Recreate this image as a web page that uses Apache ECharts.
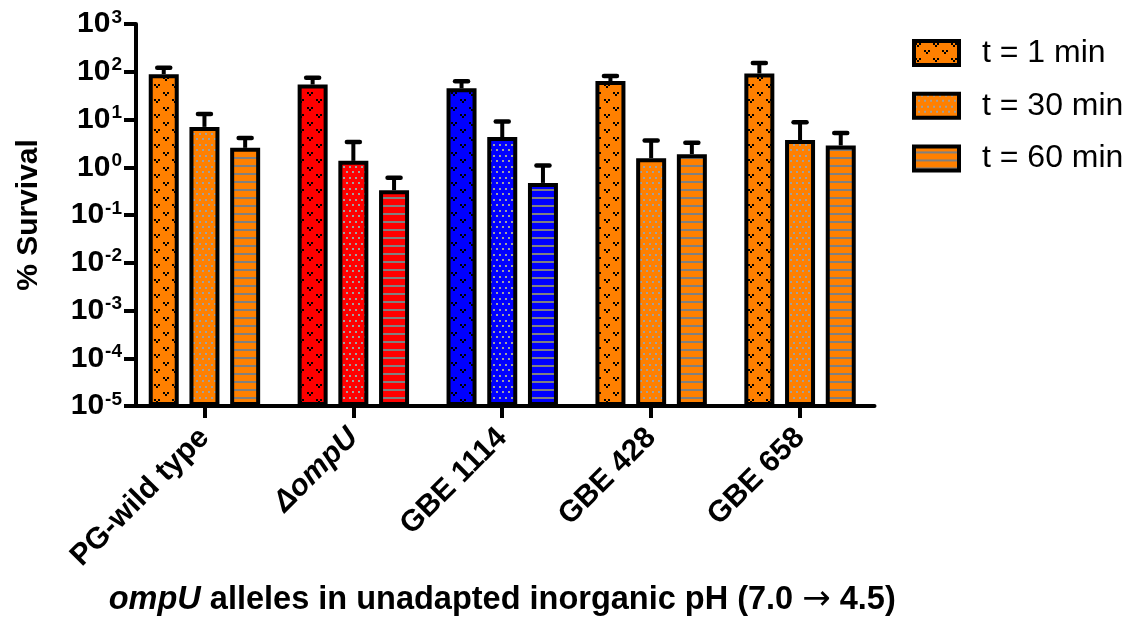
<!DOCTYPE html>
<html><head><meta charset="utf-8">
<script src="https://cdn.jsdelivr.net/npm/echarts@6/dist/echarts.min.js"></script>
<style>html,body{margin:0;padding:0;background:#fff}#chart{width:1137px;height:618px}</style>
</head><body><div id="chart"></div>
<script>
// ---- data ----
const categories = ['PG-wild type', 'ΔompU', 'GBE 1114', 'GBE 428', 'GBE 658'];
const groupColors = ['#FF8000', '#FF0000', '#0000FF', '#FF8000', '#FF8000'];
const seriesNames = ['t = 1 min', 't = 30 min', 't = 60 min'];
const t1Mean  = [89, 54, 45, 64, 92];
const t1SD    = [32, 21, 18, 17, 60];
const t30Mean = [7.0, 1.36, 4.3, 1.55, 3.7];
const t30SD   = [6.1, 2.0, 4.8, 2.1, 5.1];
const t60Mean = [2.55, 0.33, 0.47, 1.88, 2.86];
const t60SD   = [1.57, 0.27, 0.62, 1.36, 2.34];
const yExponents = [-5, -4, -3, -2, -1, 0, 1, 2, 3];
const xTitleItalic = 'ompU';
const xTitleMid = ' alleles in unadapted inorganic pH (7.0 ';
const xTitleArrow = '\u2192';
const xTitleEnd = ' 4.5)';
const yTitle = '% Survival';

// ---- helpers ----
const FONT = '"Liberation Sans", Arial, sans-serif';
const LOG_MIN = yExponents[0];
const LOG_MAX = yExponents[yExponents.length - 1];
const toAxis = v => Math.log10(v) - LOG_MIN;

const patternCache = {};
function makePattern(kind, bg) {
  const key = kind + bg;
  if (patternCache[key]) return patternCache[key];
  const c = document.createElement('canvas');
  let w, h;
  if (kind === 'marks') { w = 18; h = 15; }
  else if (kind === 'dots') { w = 12; h = 11; }
  else { w = 4; h = 8; }
  c.width = w; c.height = h;
  const g = c.getContext('2d');
  g.fillStyle = bg; g.fillRect(0, 0, w, h);
  if (kind === 'marks') {
    g.fillStyle = '#000';
    const m = (x, y) => { g.fillRect(x, y, 2, 2); g.fillRect(x + 4, y, 2, 2); g.fillRect(x + 2, y + 2, 2, 2); };
    m(1, 2); m(10, 9);
  } else if (kind === 'dots') {
    g.fillStyle = '#a0a0a0';
    g.fillRect(1, 1, 2, 2); g.fillRect(7, 1, 2, 2); g.fillRect(4, 6, 2, 2); g.fillRect(10, 6, 2, 2);
  } else {
    g.fillStyle = '#808080'; g.fillRect(0, 5, w, 2);
  }
  const p = { image: c, repeat: 'repeat' };
  patternCache[key] = p;
  return p;
}

const kinds = ['marks', 'dots', 'lines'];
const means = [t1Mean, t30Mean, t60Mean];
const sds = [t1SD, t30SD, t60SD];
const BAR_W = 30, BAR_GAP = 0.357;

const barSeries = means.map((m, s) => ({
  name: seriesNames[s], type: 'bar', barWidth: BAR_W, barGap: (BAR_GAP * 100) + '%', z: 2,
  itemStyle: { color: makePattern(kinds[s], groupColors[0]), borderColor: '#000', borderWidth: 4 },
  emphasis: { disabled: true },
  data: m.map((v, i) => ({ value: toAxis(v), itemStyle: { color: makePattern(kinds[s], groupColors[i]) } }))
}));

const errSeries = means.map((m, s) => ({
  type: 'custom', name: seriesNames[s] + ' error', z: 5, silent: true,
  renderItem: (params, api) => {
    const off = (s - 1) * BAR_W * (1 + BAR_GAP);
    const base = api.coord([api.value(0), api.value(1)]);
    const top = api.coord([api.value(0), api.value(2)]);
    const cx = base[0] + off;
    return { type: 'group', children: [
      { type: 'line', shape: { x1: cx, y1: base[1], x2: cx, y2: top[1] }, style: { stroke: '#000', lineWidth: 4 } },
      { type: 'line', shape: { x1: cx - 6.5, y1: top[1], x2: cx + 6.5, y2: top[1] }, style: { stroke: '#000', lineWidth: 4.5, lineCap: 'round' } }
    ]};
  },
  data: m.map((v, i) => [i, toAxis(v), toAxis(v + sds[s][i])])
}));

const chart = echarts.init(document.getElementById('chart'));
chart.setOption({
  animation: false,
  backgroundColor: '#fff',
  grid: { left: 130, right: 262.5, top: 24, bottom: 212, containLabel: false, outerBoundsMode: 'none' },
  legend: {
    data: seriesNames, orient: 'vertical', left: 912, top: 37, icon: 'rect', padding: 0,
    itemWidth: 45, itemHeight: 24, itemGap: 20.7,
    itemStyle: { borderColor: '#000', borderWidth: 4 },
    textStyle: { fontFamily: FONT, fontSize: 32, color: '#000', lineHeight: 26, padding: [0, 0, 0, 18] },
    selectedMode: false
  },
  xAxis: {
    type: 'category', data: categories,
    axisLine: { show: true, lineStyle: { color: '#000', width: 4 } },
    axisTick: { show: true, alignWithLabel: true, length: 12, lineStyle: { color: '#000', width: 4 } },
    axisLabel: {
      interval: 0, rotate: 45, margin: 27, color: '#000', fontFamily: FONT, fontSize: 30, fontWeight: 'bold',
      formatter: v => v === 'ΔompU' ? '{i|' + v + '}' : v,
      rich: { i: { fontFamily: FONT, fontSize: 30, fontWeight: 'bold', fontStyle: 'italic', color: '#000' } }
    },
    name: '{i|' + xTitleItalic + '}{b|' + xTitleMid + '}{a|' + xTitleArrow + '}{b|' + xTitleEnd + '}',
    nameLocation: 'middle', nameGap: 176,
    nameTextStyle: {
      rich: {
        i: { fontFamily: FONT, fontSize: 32.5, fontWeight: 'bold', fontStyle: 'italic', color: '#000', lineHeight: 36 },
        b: { fontFamily: FONT, fontSize: 32.5, fontWeight: 'bold', color: '#000', lineHeight: 36 },
        a: { fontFamily: '"DejaVu Sans", sans-serif', fontSize: 34, fontWeight: 'normal', color: '#000', lineHeight: 36 }
      }
    }
  },
  yAxis: {
    type: 'value', min: 0, max: LOG_MAX - LOG_MIN, interval: 1, offset: -6,
    splitLine: { show: false },
    axisLine: { show: true, lineStyle: { color: '#000', width: 4 } },
    axisTick: { show: true, length: 12, lineStyle: { color: '#000', width: 4 } },
    axisLabel: {
      margin: 14,
      formatter: v => '{b|10}{s|' + yExponents[Math.round(v)] + '}',
      rich: {
        b: { fontFamily: FONT, fontSize: 30, fontWeight: 'bold', color: '#000', lineHeight: 32 },
        s: { fontFamily: FONT, fontSize: 19, fontWeight: 'bold', color: '#000', verticalAlign: 'top', padding: [0, 0, 0, 1] }
      }
    },
    name: yTitle, nameLocation: 'middle', nameGap: 92,
    nameTextStyle: { fontFamily: FONT, fontSize: 30, fontWeight: 'bold', color: '#000' }
  },
  series: [...barSeries, ...errSeries]
});
</script>
</body></html>
